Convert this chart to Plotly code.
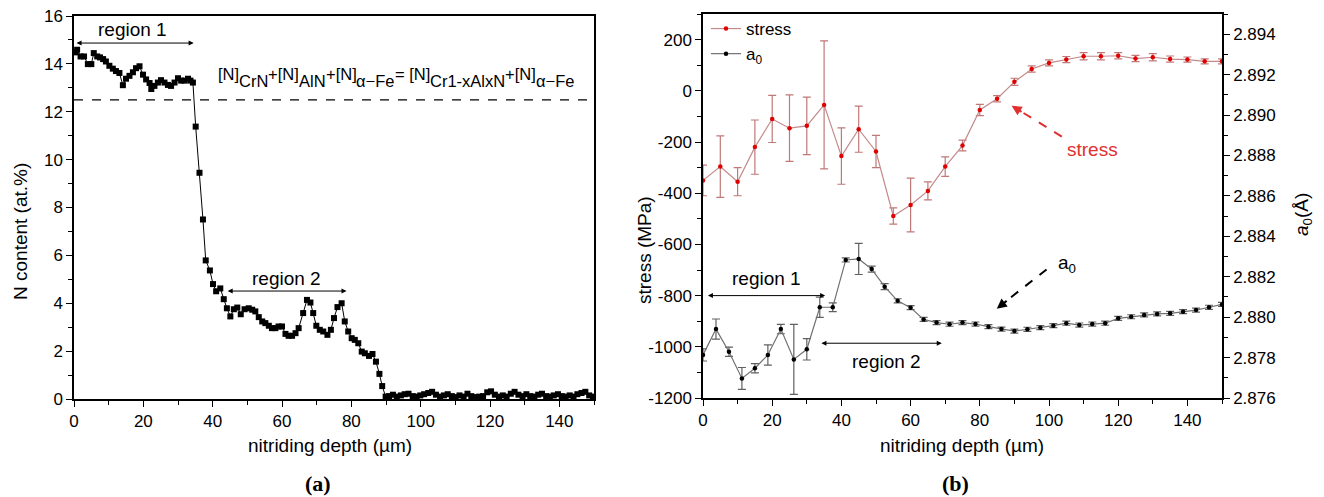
import plotly.graph_objects as go

# ---------------- Panel (a): N content ----------------
depth_a = [0.4, 0.9, 1.9, 2.9, 4.0, 5.0, 5.7, 6.7, 7.5, 8.4, 9.2, 10.2, 11.2, 12.1, 13.1, 14.1,
           15.0, 16.0, 17.0, 17.9, 18.9, 19.9, 20.8, 21.8, 22.3, 23.2, 24.2, 25.1, 26.1, 27.1,
           28.0, 29.0, 30.0, 30.9, 31.9, 32.9, 33.6, 34.3,
           35.1, 36.2, 37.2, 38.0, 39.2, 40.1, 41.0, 42.2, 43.2, 44.1, 45.1, 46.1, 47.1, 48.1,
           49.2, 50.4, 51.4, 52.3, 53.3, 54.3, 55.2, 56.2, 57.1, 58.1, 59.0, 60.0, 61.0, 61.9,
           62.9, 63.9, 64.8, 66.1, 67.2, 68.2, 69.0, 69.9, 70.9, 71.9, 73.1, 74.1, 75.0, 76.0,
           77.2, 78.1, 79.1, 80.1, 81.0, 82.0, 83.0, 83.9, 85.1, 86.1, 87.1, 88.1, 88.9, 89.9,
           90.9, 92.0, 93.1, 94.3, 95.4, 96.5, 97.7, 98.8, 99.9, 101.0, 102.2, 103.3, 104.4,
           105.6, 106.7, 107.8, 109.0, 110.1, 111.2, 112.4, 113.5, 114.6, 115.8, 116.9, 118.0,
           119.2, 120.3, 121.4, 122.6, 123.7, 124.8, 126.0, 127.1, 128.2, 129.4, 130.5, 131.6,
           132.8, 133.9, 135.0, 136.2, 137.3, 138.4, 139.6, 140.7, 141.8, 143.0, 144.1, 145.2,
           146.4, 147.5, 148.6, 149.7]
n_content = [14.48, 14.59, 14.31, 14.31, 13.99, 13.99, 14.45, 14.31, 14.27, 14.2, 14.1, 13.92,
             13.8, 13.7, 13.62, 13.11, 13.38, 13.5, 13.65, 13.82, 13.9, 13.55, 13.35, 13.2,
             12.95, 13.08, 13.22, 13.32, 13.22, 13.12, 13.08, 13.22, 13.4, 13.3, 13.3, 13.38,
             13.3, 13.22,
             11.38, 9.45, 7.5, 5.79, 5.37, 4.80, 4.5, 4.62, 4.17, 3.79, 3.45, 3.75, 3.82, 3.54,
             3.75, 3.79, 3.73, 3.66, 3.42, 3.24, 3.17, 3.06, 2.96, 2.96, 3.03, 3.03, 2.72, 2.64,
             2.64, 2.75, 2.96, 3.59, 4.14, 4.03, 3.59, 3.06, 2.89, 2.82, 2.68, 2.89, 3.38, 3.84,
             4.0, 3.24, 2.82, 2.54, 2.47, 2.33, 1.98, 1.91, 1.80, 1.88, 1.56, 1.05, 0.54, 0.1,
             0.12, 0.18, 0.1, 0.15, 0.2, 0.22, 0.12, 0.1, 0.15, 0.2, 0.25, 0.3, 0.18,
             0.1, 0.15, 0.2, 0.12, 0.08, 0.15, 0.1, 0.22, 0.12, 0.08, 0.1, 0.12,
             0.28, 0.32, 0.18, 0.1, 0.15, 0.1, 0.22, 0.3, 0.18, 0.12, 0.2, 0.12,
             0.1, 0.18, 0.22, 0.12, 0.1, 0.15, 0.2, 0.12, 0.1, 0.15, 0.1, 0.2,
             0.25, 0.3, 0.15, 0.1]
threshold_a = 12.5

# formula tokens: (text, raised?)
formula_tokens = [("[N]", True), ("CrN", False), ("+[N]", True), ("AlN", False),
                  ("+[N]", True), ("α−Fe", False), ("= [N]", True), ("Cr1-xAlxN", False),
                  ("+[N]", True), ("α−Fe", False)]

# ---------------- Panel (b): stress and a0 ----------------
depth_stress = [0, 5, 10, 15, 20, 25, 30, 35, 40, 45, 50, 55, 60, 65, 70, 75, 80, 85, 90, 95,
                100, 105, 110, 115, 120, 125, 130, 135, 140, 145, 150]
stress = [-350, -296, -355, -220, -110, -146, -137, -55, -255, -150, -237, -489, -446, -391,
          -296, -214, -75, -31, 35, 85, 109, 122, 135, 135, 137, 126, 131, 124, 122, 115, 115]
stress_err = [60, 120, 55, 106, 92, 130, 112, 250, 110, 90, 63, 32, 105, 35, 38, 21, 22, 12,
              14, 12, 12, 12, 14, 14, 12, 12, 14, 12, 10, 10, 10]
stress_ticks = [-1200, -1000, -800, -600, -400, -200, 0, 200]
stress_tick_labels = ["-1200", "-1000", "-800", "-600", "-400", "-200", "0", "200"]

depth_a0 = [0, 3.75, 7.5, 11.25, 15, 18.75, 22.5, 26.25, 30, 33.75, 37.5, 41.25, 45, 48.75,
            52.5, 56.25, 60, 63.75, 67.5, 71.25, 75, 78.75, 82.5, 86.25, 90, 93.75, 97.5,
            101.25, 105, 108.75, 112.5, 116.25, 120, 123.75, 127.5, 131.25, 135, 138.75,
            142.5, 146.25, 150]
a0 = [2.87813, 2.87941, 2.87829, 2.87697, 2.87747, 2.87813, 2.87941, 2.87791, 2.87841,
      2.88049, 2.88049, 2.88283, 2.88288, 2.88238, 2.88151, 2.88081, 2.88047, 2.87989,
      2.87973, 2.87965, 2.87973, 2.87966, 2.87953, 2.87941, 2.87931, 2.87940, 2.87948,
      2.87958, 2.87970, 2.87961, 2.87966, 2.87970, 2.87994, 2.88002, 2.88011, 2.88016,
      2.88019, 2.88027, 2.88035, 2.88049, 2.88063]
a0_err = [0.0003, 0.0005, 0.00023, 0.00054, 0.00023, 0.0005, 0.00023, 0.00173, 0.00053,
          0.0005, 0.00022, 0.0001, 0.00077, 0.00015, 0.00015, 0.0001, 0.0001, 0.0001, 0.0001,
          0.0001, 0.0001, 0.0001, 0.0001, 0.0001, 0.0001, 0.0001, 0.0001, 0.0001, 0.0001,
          0.0001, 0.0001, 0.0001, 0.0001, 0.0001, 0.0001, 0.0001, 0.0001, 0.0001, 0.0001,
          0.0001, 0.0001]

assert len(depth_a) == len(n_content)
assert len(depth_stress) == len(stress) == len(stress_err)
assert len(depth_a0) == len(a0) == len(a0_err)

W, H = 1324, 497
FONT = "Liberation Sans, Arial, sans-serif"
SERIF = "Liberation Serif, Times New Roman, serif"

def px_x(p):
    return p / W

def px_y(p):
    return 1 - p / H

fig = go.Figure()

fig.add_trace(go.Scatter(
    x=depth_a, y=n_content, mode="lines+markers", xaxis="x", yaxis="y",
    line=dict(color="black", width=1),
    marker=dict(symbol="square", size=6, color="black"),
    showlegend=False, cliponaxis=False))

fig.add_trace(go.Scatter(
    x=[0, 150], y=[threshold_a, threshold_a], mode="lines", xaxis="x", yaxis="y",
    line=dict(color="black", width=1.2, dash="dash"), showlegend=False))

fig.add_trace(go.Scatter(
    x=depth_stress, y=stress, mode="lines+markers", xaxis="x2", yaxis="y2", name="stress",
    line=dict(color="#c48a8a", width=1.2),
    marker=dict(symbol="circle", size=4.5, color="#e00000"),
    error_y=dict(type="data", array=stress_err, color="#c07878", thickness=1.2, width=4)))

fig.add_trace(go.Scatter(
    x=depth_a0, y=a0, mode="lines+markers", xaxis="x2", yaxis="y3", name="a<sub>0</sub>",
    line=dict(color="#707070", width=1.2),
    marker=dict(symbol="circle", size=4.5, color="black"),
    error_y=dict(type="data", array=a0_err, color="#606060", thickness=1.2, width=4)))

axis_common = dict(showline=True, linecolor="black", linewidth=1.5, ticks="outside",
                   ticklen=6, tickwidth=1.2, tickcolor="black", showgrid=False,
                   zeroline=False, automargin=False,
                   tickfont=dict(family=FONT, size=17, color="black"))

fig.update_layout(
    width=W, height=H, margin=dict(l=0, r=0, t=0, b=0, autoexpand=False),
    paper_bgcolor="white", plot_bgcolor="white",
    font=dict(family=FONT, color="black"),
    xaxis=dict(domain=[px_x(74), px_x(594)], range=[0, 150], dtick=20, anchor="y",
               mirror=True, minor=dict(dtick=10, ticks="outside", ticklen=4,
                                       tickcolor="black"), **axis_common),
    yaxis=dict(domain=[px_y(399), px_y(16)], range=[0, 16], dtick=2, anchor="x",
               mirror=True, minor=dict(dtick=1, ticks="outside", ticklen=4,
                                       tickcolor="black"), **axis_common),
    xaxis2=dict(domain=[px_x(703), px_x(1222)], range=[0, 150], dtick=20, anchor="y2",
                mirror=True, minor=dict(dtick=10, ticks="outside", ticklen=4,
                                        tickcolor="black"), **axis_common),
    yaxis2=dict(domain=[px_y(398), px_y(14)], range=[-1200, 300], tickmode="array",
                tickvals=stress_ticks, ticktext=stress_tick_labels, anchor="x2",
                minor=dict(dtick=100, tick0=0, ticks="outside", ticklen=4,
                           tickcolor="black"),
                **axis_common),
    yaxis3=dict(domain=[px_y(398), px_y(14)], range=[2.876, 2.895], tick0=2.876,
                dtick=0.002, tickformat=".3f", anchor="x2", overlaying="y2", side="right",
                minor=dict(dtick=0.001, ticks="outside", ticklen=4, tickcolor="black"),
                **axis_common),
    legend=dict(x=px_x(706), y=px_y(11), xanchor="left", yanchor="top",
                bgcolor="rgba(0,0,0,0)", font=dict(family=FONT, size=17, color="black"),
                tracegroupgap=0, itemwidth=30),
)

ann = []

def ptext(text, x, y, size=19, family=FONT, angle=0, color="black"):
    ann.append(dict(text=text, x=px_x(x), y=px_y(y), xref="paper", yref="paper",
                    xanchor="center", yanchor="middle", textangle=angle, showarrow=False,
                    font=dict(size=size, family=family, color=color)))

def dtext(text, x, y, xr, yr, size=19, color="black"):
    ann.append(dict(text=text, x=x, y=y, xref=xr, yref=yr, xanchor="center",
                    yanchor="middle", showarrow=False,
                    font=dict(size=size, family=FONT, color=color)))

def darrow(x0, x1, y, xr, yr):
    ann.append(dict(x=x1, y=y, ax=x0, ay=y, xref=xr, yref=yr, axref=xr, ayref=yr,
                    text="", showarrow=True, arrowhead=2, arrowside="end+start",
                    arrowsize=1, arrowwidth=1, arrowcolor="black"))

# axis titles and panel labels
ptext("N content (at.%)", 21, 232, angle=-90)
ptext("nitriding depth (µm)", 330, 445)
ptext("<b>(a)</b>", 318, 483, size=22, family=SERIF)
ptext("stress (MPa)", 645, 250, angle=-90)
ptext("<i>a</i><sub>0</sub>(Å)", 1303, 215, angle=-90)
ptext("nitriding depth (µm)", 962, 445)
ptext("<b>(b)</b>", 955, 483, size=22, family=SERIF)

# panel (a) region labels
dtext("region 1", 17, 15.45, "x", "y")
darrow(0.3, 34.5, 14.87, "x", "y")
dtext("region 2", 61.3, 5.05, "x", "y")
darrow(43.9, 78.6, 4.51, "x", "y")

# formula placed token by token (Arial / Liberation Sans advance widths, per 1000 em)
ADV = {"[": 278, "]": 278, "N": 722, "C": 722, "r": 333, "A": 667, "l": 222, "x": 500,
       "F": 611, "e": 556, "α": 578, "−": 584, "-": 333, "1": 556, "+": 584, "=": 584,
       " ": 278}
FS = 16.5
shift = 0.0
for tok, raised in formula_tokens:
    ann.append(dict(text=tok, x=41.25, y=13.42, xref="x", yref="y", xanchor="left",
                    yanchor="middle", xshift=shift, yshift=3.3 if raised else -3.3,
                    showarrow=False, borderpad=0,
                    font=dict(size=FS, family=FONT, color="black")))
    shift += sum(ADV.get(c, 556) for c in tok) / 1000 * FS

# panel (b) texts
dtext("region 1", 18.4, -733, "x2", "y2")
darrow(1, 35.3, -800, "x2", "y2")
dtext("region 2", 53.1, -1057, "x2", "y2")
darrow(33.8, 69, -986, "x2", "y2")
dtext("stress", 112.7, -231, "x2", "y2", color="#e03030")
dtext("a<sub>0</sub>", 105.1, -675, "x2", "y2")
# arrowheads for dashed pointer arrows
ann.append(dict(x=89.2, y=-58.5, ax=92.5, ay=-86, xref="x2", yref="y2", axref="x2",
                ayref="y2", text="", showarrow=True, arrowhead=2, arrowsize=1,
                arrowwidth=2, arrowcolor="#e03030"))
ann.append(dict(x=84.9, y=-851, ax=88.2, ay=-816, xref="x2", yref="y2", axref="x2",
                ayref="y2", text="", showarrow=True, arrowhead=2, arrowsize=1,
                arrowwidth=2, arrowcolor="black"))
fig.update_layout(annotations=ann)

fig.update_layout(shapes=[
    dict(type="line", xref="x2", yref="y2", x0=103.7, y0=-179, x1=91, y1=-73,
         line=dict(color="#e03030", width=2, dash="dash")),
    dict(type="line", xref="x2", yref="y2", x0=99.3, y0=-698, x1=86.5, y1=-833,
         line=dict(color="black", width=2, dash="dash")),
])

# remove the default browser page margin so the figure starts at the window corner
fig.write_html("out.html", config={"displayModeBar": False},
               post_script="document.body.style.margin='0';document.body.style.overflow='hidden';")
